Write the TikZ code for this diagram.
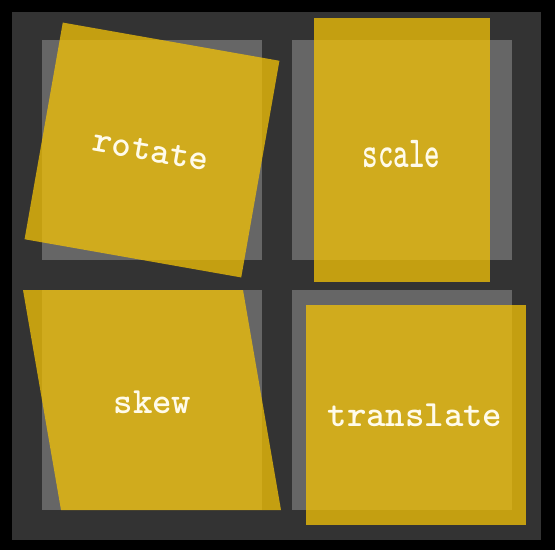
\documentclass[tikz,border=0pt]{standalone}
\usepackage{fontspec}
\definecolor{panelbg}{HTML}{333333}
\definecolor{ghost}{HTML}{666666}
\definecolor{gold}{RGB}{240,192,8}
\definecolor{labelc}{HTML}{FFFBEA}
\begin{document}
\begin{tikzpicture}[x=1pt,y=-1pt,
  ghostbox/.style={fill=ghost},
  goldbox/.style={fill=gold,fill opacity=0.77},
  lbl/.style={text=labelc,font=\fontsize{37}{40}\selectfont\ttfamily\bfseries,inner sep=0pt}]
\fill[black] (0,0) rectangle (555,550);
\useasboundingbox (0,0) rectangle (555,550);
\fill[panelbg] (12,12) rectangle (541,540);
% reference squares
\fill[ghostbox] (42,40) rectangle (262,260);
\fill[ghostbox] (291.5,40) rectangle (511.5,260);
\fill[ghostbox] (42,290) rectangle (262,510);
\fill[ghostbox] (291.5,290) rectangle (511.5,510);
% rotate
\begin{scope}[shift={(152,150)},rotate=-10]
  \fill[goldbox] (-110,-110) rectangle (110,110);
\end{scope}
\node[lbl,rotate=-10] (rot) at (151,151) {rotate};
% scale
\begin{scope}[shift={(401.5,150)},xscale=0.8,yscale=1.2]
  \fill[goldbox] (-110,-110) rectangle (110,110);
  \node[lbl,transform shape] (scl) at (0,3) {scale};
\end{scope}
% skew
\fill[goldbox] (23,290) -- (243,290) -- (281,510) -- (61,510) -- cycle;
\node[lbl] (skw) at (152.5,402) {skew};
% translate
\fill[goldbox] (306,305) rectangle (526,525);
\node[lbl] (trn) at (415,415) {translate};
\end{tikzpicture}
\end{document}
